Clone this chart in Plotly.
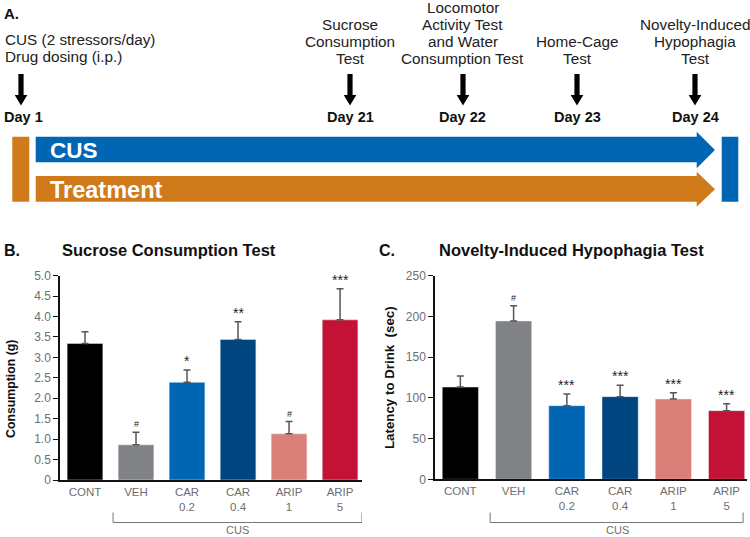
import plotly.graph_objects as go

# ---------- data ----------
groups = ["CONT", "VEH", "CAR<br>0.2", "CAR<br>0.4", "ARIP<br>1", "ARIP<br>5"]
bar_colors = ["#000000", "#808285", "#0066b3", "#00457f", "#db8079", "#c41237"]

sucrose_mean = [3.34, 0.86, 2.39, 3.44, 1.13, 3.92]
sucrose_sem = [0.29, 0.31, 0.30, 0.43, 0.30, 0.76]
sucrose_sig = ["", "#", "*", "**", "#", "***"]

nih_mean = [113.3, 194.4, 90.4, 101.5, 98.6, 84.3]
nih_sem = [13.5, 18.8, 14.3, 13.9, 7.8, 8.6]
nih_sig = ["", "#", "***", "***", "***", "***"]

day_labels = ["Day 1", "Day 21", "Day 22", "Day 23", "Day 24"]
event_texts = [
    "CUS (2 stressors/day)<br>Drug dosing (i.p.)",
    "Sucrose<br>Consumption<br>Test",
    "Locomotor<br>Activity Test<br>and Water<br>Consumption Test",
    "Home-Cage<br>Test",
    "Novelty-Induced<br>Hypophagia<br>Test",
]

# ---------- layout helpers ----------
W, H = 750, 537
FONT = "Liberation Sans, Arial, Helvetica, sans-serif"
BLUE = "#0066b3"
ORANGE = "#cf7a1b"
TICK_GRAY = "#6d6e71"


def px(x):
    return x / W


def py(y):
    return 1 - y / H


def path(points):
    return "M " + " L ".join(f"{px(x):.5f},{py(y):.5f}" for x, y in points) + " Z"


def note(x, y, text, size, color="#111", xanchor="center", yanchor="middle", angle=0):
    # paper annotation placed in pixel units
    return dict(x=px(x), y=py(y), xref="paper", yref="paper", text=text, showarrow=False,
                xanchor=xanchor, yanchor=yanchor, textangle=angle,
                font=dict(family=FONT, size=size, color=color))


fig = go.Figure()

xs = list(range(len(groups)))
fig.add_trace(go.Bar(
    x=xs, y=sucrose_mean, marker_color=bar_colors, width=0.7,
    error_y=dict(type="data", array=sucrose_sem, arrayminus=[0] * 6, symmetric=False,
                 color="#555555", thickness=1.5, width=3.5),
    xaxis="x", yaxis="y", showlegend=False,
))
fig.add_trace(go.Bar(
    x=xs, y=nih_mean, marker_color=bar_colors, width=0.68,
    error_y=dict(type="data", array=nih_sem, arrayminus=[0] * 6, symmetric=False,
                 color="#555555", thickness=1.5, width=3.5),
    xaxis="x2", yaxis="y2", showlegend=False,
))

annotations = []
shapes = []

# significance markers
for xref, yref, means, sems, sigs in [("x", "y", sucrose_mean, sucrose_sem, sucrose_sig),
                                       ("x2", "y2", nih_mean, nih_sem, nih_sig)]:
    for i, s in enumerate(sigs):
        if not s:
            continue
        size = 9 if s == "#" else 14
        annotations.append(dict(
            x=i, y=means[i] + sems[i], xref=xref, yref=yref, text=s, showarrow=False,
            xanchor="center", yanchor="bottom", yshift=-1 if s != "#" else 1,
            font=dict(family=FONT, size=size, color="#222222"),
        ))

# CUS brackets under the VEH..ARIP groups
for xref, x0, x1, xc in [("x", 0.55, 5.43, 237), ("x2", 0.56, 5.31, 617)]:
    shapes.append(dict(
        type="path", xref=xref, yref="paper",
        path=f"M {x0},{py(512.5):.5f} L {x0},{py(522.5):.5f} L {x1},{py(522.5):.5f} L {x1},{py(512.5):.5f}",
        line=dict(color="#777777", width=1),
    ))
    annotations.append(note(xc, 530, "CUS", 11, TICK_GRAY))

# panel titles
for lx, tx, label, title in [(2, 60, "B.", "Sucrose Consumption Test"),
                             (377, 437, "C.", "Novelty-Induced Hypophagia Test")]:
    annotations.append(note(lx, 250, f"<b>{label}</b>", 16, xanchor="left"))
    annotations.append(note(tx, 250, f"<b>{title}</b>", 16.5, xanchor="left"))

# y-axis titles
annotations.append(note(11, 389, "<b>Consumption (g)</b>", 12.3, angle=-90))
annotations.append(note(389, 378, "<b>Latency to Drink  (sec)</b>", 13.3, angle=-90))

# ---------- panel A: timeline ----------
annotations.append(note(2, 13, "<b>A.</b>", 15, xanchor="left"))

event_x = [21, 350, 463, 577, 695]
for k, (lab, txt, ex) in enumerate(zip(day_labels, event_texts, event_x)):
    lines = txt.split("<br>")
    if k == 0:
        for i, ln in enumerate(lines):
            annotations.append(note(3, 39.5 + 16.5 * i, ln, 15.3, "#222", xanchor="left"))
        annotations.append(note(2, 117, f"<b>{lab}</b>", 14.5, xanchor="left"))
    else:
        n = len(lines)
        for i, ln in enumerate(lines):
            annotations.append(note(ex, 58.3 - 17 * (n - 1 - i), ln, 15.3, "#222"))
        annotations.append(note(ex, 117, f"<b>{lab}</b>", 14.5))
    # down arrow
    shapes.append(dict(type="path", xref="paper", yref="paper", fillcolor="#000", line=dict(width=0),
                       path=path([(ex - 2.6, 74), (ex + 2.6, 74), (ex + 2.6, 95), (ex + 6.3, 95),
                                  (ex, 105.5), (ex - 6.3, 95), (ex - 2.6, 95)])))

# timeline bars
shapes.append(dict(type="path", xref="paper", yref="paper", fillcolor=ORANGE, line=dict(width=0),
                   path=path([(12.3, 136.7), (29.3, 136.7), (29.3, 201.7), (12.3, 201.7)])))
shapes.append(dict(type="path", xref="paper", yref="paper", fillcolor=BLUE, line=dict(width=0),
                   path=path([(721.7, 136.7), (738.3, 136.7), (738.3, 201.7), (721.7, 201.7)])))
shapes.append(dict(type="path", xref="paper", yref="paper", fillcolor=BLUE, line=dict(width=0),
                   path=path([(35.7, 136.7), (696.7, 136.7), (696.7, 131.7), (715, 150),
                              (696.7, 168.3), (696.7, 162.3), (35.7, 162.3)])))
shapes.append(dict(type="path", xref="paper", yref="paper", fillcolor=ORANGE, line=dict(width=0),
                   path=path([(35.7, 176), (696.7, 176), (696.7, 171.7), (715, 189.2),
                              (696.7, 206.7), (696.7, 201.7), (35.7, 201.7)])))
annotations.append(note(48, 150, "<b>CUS</b>", 22.5, "white", xanchor="left"))
annotations.append(note(48, 190, "<b>Treatment</b>", 23.5, "white", xanchor="left"))

# ---------- axes ----------
tick_font = dict(family=FONT, size=12, color=TICK_GRAY)
cat_font = dict(family=FONT, size=11.5, color=TICK_GRAY)
b_ticks = [0, 0.5, 1, 1.5, 2, 2.5, 3, 3.5, 4, 4.5, 5]
c_ticks = [0, 50, 100, 150, 200, 250]

fig.update_layout(
    width=W, height=H, autosize=False,
    margin=dict(l=0, r=0, t=0, b=0, autoexpand=False),
    paper_bgcolor="white", plot_bgcolor="white",
    xaxis=dict(domain=[px(60), px(362)], range=[-0.49, 5.43], tickvals=xs, ticktext=groups,
               showline=True, linecolor="#111", linewidth=1.5, ticks="", showgrid=False,
               zeroline=False, tickfont=cat_font, fixedrange=True),
    yaxis=dict(domain=[py(480), py(275.7)], range=[0, 5], tickvals=b_ticks,
               ticktext=["0"] + [f"{v:.1f}" for v in b_ticks[1:]],
               showline=True, linecolor="#111", linewidth=1.5, ticks="outside", ticklen=5,
               tickcolor="#111", tickwidth=1.2, showgrid=False, zeroline=False, tickfont=tick_font),
    xaxis2=dict(domain=[px(435), px(747)], range=[-0.476, 5.383], tickvals=xs, ticktext=groups,
                showline=True, linecolor="#111", linewidth=1.5, ticks="", showgrid=False,
                zeroline=False, tickfont=cat_font, anchor="y2"),
    yaxis2=dict(domain=[py(479.3), py(275.7)], range=[0, 250], tickvals=c_ticks,
                showline=True, linecolor="#111", linewidth=1.5, ticks="outside", ticklen=5,
                tickcolor="#111", tickwidth=1.2, showgrid=False, zeroline=False, tickfont=tick_font,
                anchor="x2"),
    annotations=annotations,
    shapes=shapes,
)

# drop the default page margin so the figure sits at the window's top-left corner
fig.write_html("out.html", config={"displayModeBar": False},
               post_script="document.body.style.margin='0';")
